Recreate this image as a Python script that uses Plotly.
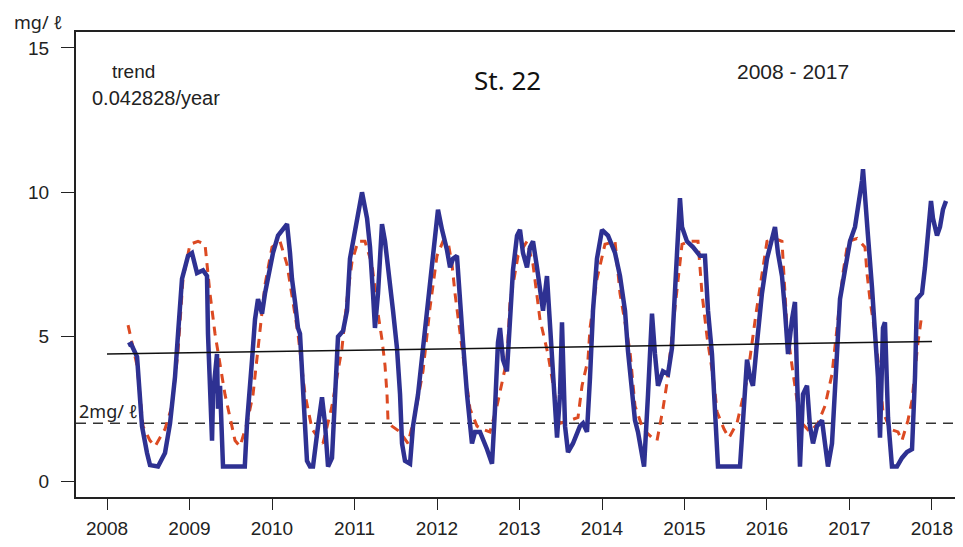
import plotly.graph_objects as go

# observed concentration (blue line)
obs_year = [
    2008.255, 2008.291, 2008.364, 2008.424, 2008.485, 2008.521, 2008.618, 2008.703,
    2008.764, 2008.824, 2008.861, 2008.909, 2008.982, 2009.030, 2009.091, 2009.164,
    2009.212, 2009.224, 2009.273, 2009.285, 2009.333, 2009.345, 2009.370, 2009.406,
    2009.670, 2009.697, 2009.758, 2009.794, 2009.830, 2009.879, 2009.915, 2009.976,
    2010.012, 2010.073, 2010.182, 2010.218, 2010.242, 2010.279, 2010.315, 2010.339,
    2010.376, 2010.424, 2010.461, 2010.497, 2010.558, 2010.606, 2010.642, 2010.679,
    2010.727, 2010.764, 2010.800, 2010.861, 2010.909, 2010.945, 2011.006, 2011.067,
    2011.091, 2011.152, 2011.188, 2011.224, 2011.248, 2011.285, 2011.333, 2011.370,
    2011.406, 2011.467, 2011.515, 2011.552, 2011.576, 2011.612, 2011.673, 2011.709,
    2011.770, 2011.830, 2011.891, 2011.952, 2012.012, 2012.061, 2012.121, 2012.158,
    2012.194, 2012.242, 2012.279, 2012.315, 2012.364, 2012.424, 2012.461, 2012.521,
    2012.606, 2012.667, 2012.703, 2012.739, 2012.764, 2012.800, 2012.848, 2012.885,
    2012.921, 2012.970, 2013.006, 2013.042, 2013.091, 2013.127, 2013.164, 2013.212,
    2013.248, 2013.285, 2013.333, 2013.370, 2013.406, 2013.455, 2013.491, 2013.515,
    2013.552, 2013.588, 2013.648, 2013.733, 2013.770, 2013.818, 2013.855, 2013.891,
    2013.939, 2014.000, 2014.073, 2014.158, 2014.218, 2014.279, 2014.315, 2014.364,
    2014.400, 2014.436, 2014.485, 2014.510, 2014.558, 2014.606, 2014.642, 2014.679,
    2014.739, 2014.800, 2014.848, 2014.885, 2014.921, 2014.945, 2014.970, 2015.030,
    2015.103, 2015.188, 2015.248, 2015.285, 2015.333, 2015.370, 2015.406, 2015.673,
    2015.709, 2015.758, 2015.794, 2015.830, 2015.879, 2015.939, 2016.000, 2016.061,
    2016.097, 2016.133, 2016.182, 2016.218, 2016.255, 2016.303, 2016.339, 2016.364,
    2016.400, 2016.436, 2016.485, 2016.521, 2016.558, 2016.606, 2016.667, 2016.703,
    2016.739, 2016.788, 2016.824, 2016.861, 2016.885, 2016.945, 2017.006, 2017.067,
    2017.103, 2017.152, 2017.164, 2017.188, 2017.224, 2017.273, 2017.309, 2017.345,
    2017.370, 2017.406, 2017.430, 2017.455, 2017.467, 2017.515, 2017.576, 2017.636,
    2017.697, 2017.758, 2017.794, 2017.818, 2017.879, 2017.915, 2017.952, 2017.988,
    2018.012, 2018.061, 2018.097, 2018.133, 2018.170,
]
obs_value = [
    4.7, 4.75, 4.3, 1.9, 0.97, 0.55, 0.5, 0.97,
    2.0, 3.6, 5.1, 7.0, 7.8, 7.9, 7.2, 7.3,
    7.1, 5.1, 1.4, 3.0, 4.4, 2.5, 3.3, 0.5,
    0.5, 2.0, 4.2, 5.6, 6.3, 5.8, 6.5, 7.3,
    7.9, 8.5, 8.9, 7.9, 7.0, 6.2, 5.3, 5.1,
    3.0, 0.7, 0.5, 0.5, 1.9, 2.9, 2.0, 0.5,
    0.8, 3.0, 5.0, 5.2, 5.9, 7.7, 8.6, 9.7,
    10.0, 9.1, 8.1, 6.5, 5.3, 6.5, 8.9, 8.3,
    7.5, 5.9, 4.6, 3.0, 1.3, 0.7, 0.6, 1.9,
    3.0, 4.6, 6.3, 8.0, 9.4, 8.7, 8.0, 7.4,
    7.7, 7.8, 6.5, 4.8, 3.0, 1.3, 1.7, 1.7,
    1.1, 0.6, 2.5, 4.8, 5.3, 4.2, 3.8, 5.9,
    7.3, 8.5, 8.7, 7.9, 7.4, 8.1, 8.3, 7.4,
    6.5, 5.9, 7.1, 5.3, 3.6, 1.5, 3.0, 5.5,
    1.9, 1.0, 1.3, 1.9, 2.0, 1.7, 3.6, 5.9,
    7.7, 8.7, 8.5, 7.9, 7.1, 5.9, 4.5, 3.0,
    2.1, 1.7, 1.0, 0.5, 3.0, 5.8, 4.4, 3.3,
    3.8, 3.7, 4.6, 6.5, 8.8, 9.8, 8.8, 8.3,
    8.1, 7.8, 7.8, 5.9, 4.4, 2.5, 0.5, 0.5,
    1.9, 4.2, 3.6, 3.3, 4.8, 6.5, 7.7, 8.5,
    8.8, 7.9, 7.1, 5.9, 4.4, 5.6, 6.2, 3.6,
    0.5, 3.0, 3.3, 1.9, 1.3, 1.9, 2.1, 1.3,
    0.5, 1.3, 3.0, 4.8, 6.3, 7.3, 8.3, 8.8,
    9.4, 10.4, 10.8, 10.0, 8.5, 6.7, 5.1, 3.6,
    1.5, 5.3, 5.5, 3.6, 2.2, 0.5, 0.5, 0.8,
    1.0, 1.1, 3.6, 6.3, 6.5, 7.4, 8.8, 9.7,
    9.1, 8.5, 8.8, 9.4, 9.7,
]

# seasonal fit (red dashed)
fit_year = [
    2008.255, 2008.364, 2008.436, 2008.521, 2008.582, 2008.703, 2008.788, 2008.861,
    2008.921, 2009.006, 2009.103, 2009.188, 2009.248, 2009.309, 2009.430, 2009.552,
    2009.612, 2009.697, 2009.770, 2009.855, 2009.915, 2010.000, 2010.097, 2010.182,
    2010.255, 2010.315, 2010.400, 2010.485, 2010.558, 2010.618, 2010.727, 2010.848,
    2010.909, 2010.970, 2011.042, 2011.127, 2011.212, 2011.285, 2011.333, 2011.370,
    2011.394, 2011.406, 2011.455, 2011.552, 2011.648, 2011.733, 2011.830, 2011.915,
    2012.000, 2012.073, 2012.133, 2012.182, 2012.218, 2012.255, 2012.303, 2012.400,
    2012.485, 2012.545, 2012.642, 2012.727, 2012.800, 2012.848, 2012.885, 2012.982,
    2013.091, 2013.164, 2013.248, 2013.345, 2013.427, 2013.491, 2013.612, 2013.709,
    2013.758, 2013.830, 2013.855, 2013.939, 2014.036, 2014.158, 2014.218, 2014.339,
    2014.400, 2014.497, 2014.606, 2014.667, 2014.739, 2014.788, 2014.885, 2014.970,
    2015.067, 2015.164, 2015.212, 2015.273, 2015.358, 2015.394, 2015.479, 2015.539,
    2015.636, 2015.758, 2015.867, 2015.927, 2016.000, 2016.097, 2016.182, 2016.218,
    2016.242, 2016.303, 2016.364, 2016.424, 2016.521, 2016.618, 2016.703, 2016.788,
    2016.861, 2016.921, 2016.982, 2017.091, 2017.188, 2017.212, 2017.248, 2017.309,
    2017.345, 2017.406, 2017.491, 2017.588, 2017.636, 2017.709, 2017.758, 2017.830,
    2017.879,
]
fit_value = [
    5.4, 4.0, 1.9, 1.4, 1.2, 1.8, 2.6, 4.5,
    7.0, 8.2, 8.3, 8.2, 6.5, 5.1, 3.0, 1.4,
    1.2, 2.0, 3.0, 5.1, 6.8, 8.1, 8.3, 7.5,
    6.2, 5.1, 3.0, 1.8, 1.5, 1.3, 2.6, 4.6,
    6.3, 7.6, 8.3, 8.3, 7.5, 5.8, 4.9, 4.0,
    3.0, 2.1, 1.9, 1.7, 1.3, 2.3, 3.8, 6.0,
    7.8, 8.3, 8.3, 7.5, 6.5, 5.6, 4.6, 2.5,
    1.9, 1.8, 1.7, 2.6, 3.6, 4.2, 6.2, 7.8,
    8.3, 7.5, 5.6, 4.4, 3.0, 2.0, 2.1, 2.2,
    3.3, 4.2, 5.3, 7.0, 8.2, 8.3, 6.5, 4.5,
    2.6, 1.8, 1.5, 1.4, 2.5, 3.4, 6.0, 8.2,
    8.3, 8.3, 6.5, 5.0, 3.4, 2.4, 1.8, 1.5,
    2.0, 3.5, 5.8, 7.0, 8.3, 8.4, 8.3, 6.5,
    5.3, 4.0, 2.8, 2.0, 1.7, 2.0, 2.6, 3.7,
    5.7, 7.2, 8.3, 8.4, 8.1, 7.2, 6.3, 5.1,
    4.2, 2.4, 1.8, 1.7, 1.4, 2.1, 2.8, 4.8,
    5.8,
]

# linear trend (0.042828/year) and the 2 mg/l reference level
trend_year = [2008.0, 2018.0]
trend_value = [4.40, 4.83]
ref_level = 2

year_ticks = list(range(2008, 2019))
value_ticks = [0, 5, 10, 15]

BLUE = '#2e3192'
RED = '#dc4a22'
SANS = 'Liberation Sans, Arial, sans-serif'
NOTO = 'Noto Sans, sans-serif'

fig = go.Figure()
fig.add_trace(go.Scatter(x=fit_year, y=fit_value, mode='lines',
                         line=dict(color=RED, width=3, dash='9px,7px')))
fig.add_trace(go.Scatter(x=obs_year, y=obs_value, mode='lines',
                         line=dict(color=BLUE, width=4.5)))
fig.add_trace(go.Scatter(x=trend_year, y=trend_value, mode='lines',
                         line=dict(color='#111111', width=1.5)))

fig.add_shape(type='line', xref='paper', x0=0, x1=1, yref='y', y0=ref_level, y1=ref_level,
              line=dict(color='#333333', width=1.5, dash='10px,7px'), layer='below')

fig.add_annotation(x=-0.072, y=1.0516, xref='paper', yref='paper', text='mg/ ℓ',
                   showarrow=False, xanchor='left', yanchor='top',
                   font=dict(family=NOTO, size=18, color='#222222'))
fig.add_annotation(x=0.001, y=ref_level, xref='paper', yref='y', text='2mg/ ℓ',
                   showarrow=False, xanchor='left', yanchor='bottom', yshift=-2,
                   font=dict(family=NOTO, size=18, color='#222222'))
fig.add_annotation(x=0.038, y=0.914, xref='paper', yref='paper', text='trend',
                   showarrow=False, xanchor='left', yanchor='middle',
                   font=dict(family=SANS, size=19, color='#222222'))
fig.add_annotation(x=0.016, y=0.858, xref='paper', yref='paper', text='0.042828/year',
                   showarrow=False, xanchor='left', yanchor='middle',
                   font=dict(family=SANS, size=20, color='#222222'))
fig.add_annotation(x=0.486, y=0.897, xref='paper', yref='paper', text='St. 22',
                   showarrow=False, xanchor='center', yanchor='middle',
                   font=dict(family=NOTO, size=26, color='#111111'))
fig.add_annotation(x=0.808, y=0.914, xref='paper', yref='paper', text='2008 - 2017',
                   showarrow=False, xanchor='center', yanchor='middle',
                   font=dict(family=SANS, size=21, color='#222222'))

# page body has an 8px margin, so the figure is 8px smaller than the window
fig.update_layout(
    width=955, height=531,
    margin=dict(l=68, r=0, t=24, b=42),
    plot_bgcolor='white', paper_bgcolor='white',
    showlegend=False,
    xaxis=dict(range=[2007.624, 2018.376], tickvals=year_ticks,
               ticks='outside', ticklen=11, tickwidth=1.3, tickcolor='#222222',
               showline=True, linecolor='#222222', linewidth=2, mirror=True,
               showgrid=False, zeroline=False, ticklabelstandoff=2, automargin=False,
               tickfont=dict(family=SANS, size=19, color='#222222')),
    yaxis=dict(range=[-0.554, 15.552], tickvals=value_ticks,
               ticks='outside', ticklen=13, tickwidth=1.3, tickcolor='#222222',
               showline=True, linecolor='#222222', linewidth=2, automargin=False,
               showgrid=False, zeroline=False, ticklabelstandoff=8,
               tickfont=dict(family=SANS, size=19, color='#222222')),
)

fig.write_html("out.html")
